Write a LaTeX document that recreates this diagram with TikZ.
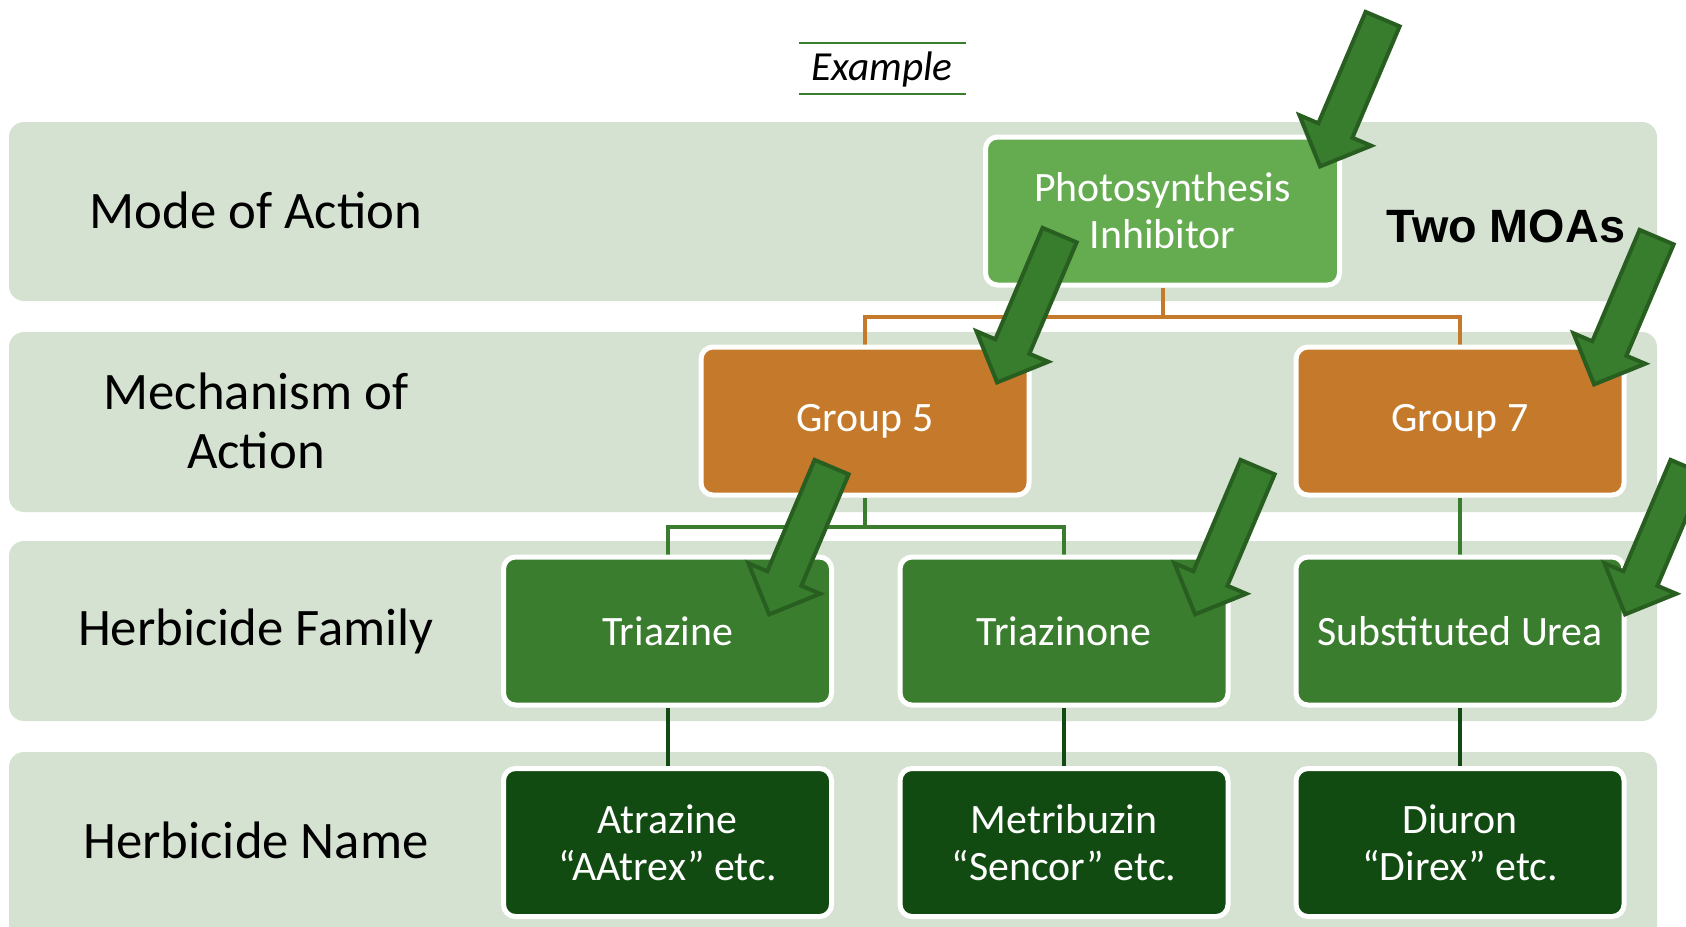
\documentclass[tikz,border=0pt]{standalone}
\usepackage{fontspec}
\setmainfont{Carlito}
\newfontfamily\moafont{Liberation Sans}
\usetikzlibrary{shapes.arrows,backgrounds}

\definecolor{bandgreen}{RGB}{213,226,210}
\definecolor{moagreen}{RGB}{101,171,80}
\definecolor{grouporange}{RGB}{197,121,43}
\definecolor{familygreen}{RGB}{59,125,46}
\definecolor{namegreen}{RGB}{18,75,18}
\definecolor{arrowgreen}{RGB}{56,125,46}
\definecolor{arrowedge}{RGB}{40,95,32}

\begin{document}
\begin{tikzpicture}[
    x=0.2mm, y=-0.2mm,
    band/.style={fill=bandgreen, rounded corners=3mm},
    rowlabel/.style={font=\fontsize{30}{33.4}\selectfont, align=center, inner sep=0pt},
    box/.style={draw=white, line width=1mm, rounded corners=2.4mm,
                minimum width=65.6mm, minimum height=29.6mm, inner sep=0pt,
                text=white, align=center, font=\fontsize{23.8}{26.6}\selectfont},
    moabox/.style={box, fill=moagreen, minimum width=70.8mm},
    groupbox/.style={box, fill=grouporange},
    familybox/.style={box, fill=familygreen},
    namebox/.style={box, fill=namegreen},
    link/.style={line width=0.8mm},
    pointer/.style={single arrow, draw=arrowedge, fill=arrowgreen, line width=0.8mm,
                    minimum height=32mm, inner xsep=0pt, inner ysep=3.3mm,
                    single arrow head extend=4.1mm,
                    rotate=247, anchor=tip}
]

\useasboundingbox (0,0) rectangle (1686,926);

%======================
% Row bands
%======================

\begin{scope}[on background layer]
\fill[band] (9,122) rectangle (1657,301);
\fill[band] (9,332) rectangle (1657,512);
\fill[band] (9,541) rectangle (1657,721);
\fill[band] (9,752) rectangle (1657,960);
\end{scope}

%======================
% Row labels
%======================

\node[rowlabel] (lmoa) at (256,210) {Mode of Action};
\node[rowlabel] (lmech) at (256,421) {Mechanism of\\Action};
\node[rowlabel] (lfam) at (256,631) {Herbicide Family};
\node[rowlabel] (lname) at (256,840) {Herbicide Name};

%======================
% Header
%======================

\node[font=\fontsize{23.5}{26}\selectfont\itshape, inner sep=0pt] (ex) at (882,69) {Example};
\coordinate (exTL) at (799,43);
\coordinate (exTR) at (966,43);
\coordinate (exBL) at (799,94);
\coordinate (exBR) at (966,94);
\draw[familygreen, line width=0.5mm] (exTL) -- (exTR);
\draw[familygreen, line width=0.5mm] (exBL) -- (exBR);

%======================
% Boxes
%======================

\node[moabox] (psi) at (1162.5,211) {Photosynthesis\\Inhibitor};

\node[groupbox] (g5) at (865,421) {Group 5};
\node[groupbox] (g7) at (1460,421) {Group 7};

\node[familybox] (tri) at (667.5,631) {Triazine};
\node[familybox] (trin) at (1064,631) {Triazinone};
\node[familybox] (urea) at (1460,631) {Substituted Urea};

\node[namebox] (atr) at (667.5,842.5) {Atrazine\\“AAtrex” etc.};
\node[namebox] (met) at (1064,842.5) {Metribuzin\\“Sencor” etc.};
\node[namebox] (diu) at (1460,842.5) {Diuron\\“Direx” etc.};

%======================
% Connectors
%======================

\coordinate (busA) at (0,317);
\coordinate (busB) at (0,527);

\begin{scope}[on background layer]
\draw[link, grouporange] (psi.south) -- (psi.south |- busA);
\draw[link, grouporange] (g5.north) -- (g5.north |- busA) -- (g7.north |- busA) -- (g7.north);

\draw[link, familygreen] (g5.south) -- (g5.south |- busB);
\draw[link, familygreen] (tri.north) -- (tri.north |- busB) -- (trin.north |- busB) -- (trin.north);
\draw[link, familygreen] (g7.south) -- (urea.north);

\draw[link, namegreen] (tri.south) -- (atr.north);
\draw[link, namegreen] (trin.south) -- (met.north);
\draw[link, namegreen] (urea.south) -- (diu.north);
\end{scope}

%======================
% Side note
%======================

\node[font=\moafont\bfseries\fontsize{26.6}{30}\selectfont, anchor=base, inner sep=0pt] (two) at (1506,242) {Two MOAs};

%======================
% Pointers
%======================

\node[pointer] (p1) at (1319,169) {};
\node[pointer] (p2) at (996,385) {};
\node[pointer] (p3) at (768,617) {};
\node[pointer] (p4) at (1194,617) {};
\node[pointer] (p5) at (1593,387) {};
\node[pointer] (p6) at (1624,617) {};

\end{tikzpicture}
\end{document}
